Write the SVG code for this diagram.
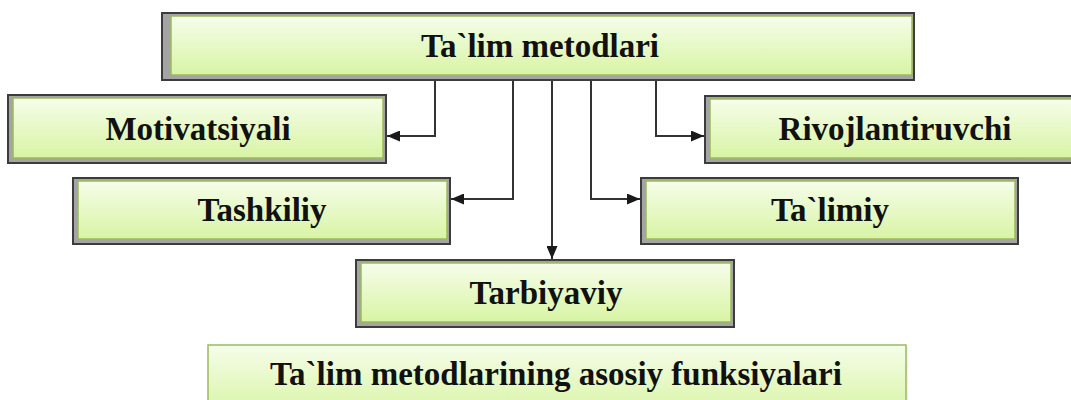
<svg xmlns="http://www.w3.org/2000/svg" width="1071" height="400" viewBox="0 0 1071 400">
<defs>
<linearGradient id="g" x1="0" y1="0" x2="0" y2="1">
<stop offset="0" stop-color="#f6fdea"/>
<stop offset="1" stop-color="#d8f4a4"/>
</linearGradient>
<marker id="arr" viewBox="0 0 13 11" refX="13" refY="5.5" markerWidth="13" markerHeight="11" markerUnits="userSpaceOnUse" orient="auto">
<path d="M0,0 L13,5.5 L0,11 z" fill="#1a1a1a"/>
</marker>
</defs>
<style>
.frame{fill:#a4a4a4;stroke:#3c3c3c;stroke-width:2}
.box{fill:url(#g);stroke:#9bbb59;stroke-width:1.5}
.lbl{font-family:"Liberation Serif","Times New Roman",serif;font-weight:bold;font-size:33px;fill:#111;text-anchor:middle}
.con{fill:none;stroke:#333;stroke-width:2}
</style>
<rect width="1071" height="400" fill="#fff"/>
<g id="connectors">
<path class="con" d="M435,80 V136 H387" marker-end="url(#arr)"/>
<path class="con" d="M513,80 V199 H451" marker-end="url(#arr)"/>
<path class="con" d="M552,80 V259" marker-end="url(#arr)"/>
<path class="con" d="M591,80 V199 H640" marker-end="url(#arr)"/>
<path class="con" d="M656,80 V136 H704" marker-end="url(#arr)"/>
</g>
<g id="n-top">
<rect class="frame" x="162" y="13" width="752" height="67"/>
<rect class="box" x="171" y="16" width="741" height="59"/>
<text class="lbl" x="540" y="57">Ta`lim metodlari</text>
</g>
<g id="n-motivatsiyali">
<rect class="frame" x="8" y="95" width="378" height="68"/>
<rect class="box" x="13" y="98" width="370" height="60"/>
<text class="lbl" x="198" y="140">Motivatsiyali</text>
</g>
<g id="n-rivojlantiruvchi">
<rect class="frame" x="705" y="96" width="380" height="67"/>
<rect class="box" x="710" y="99" width="372" height="59"/>
<text class="lbl" x="895" y="140">Rivojlantiruvchi</text>
</g>
<g id="n-tashkiliy">
<rect class="frame" x="73" y="178" width="377" height="66"/>
<rect class="box" x="78" y="181" width="369" height="58"/>
<text class="lbl" x="262" y="221">Tashkiliy</text>
</g>
<g id="n-talimiy">
<rect class="frame" x="641" y="178" width="377" height="66"/>
<rect class="box" x="646" y="181" width="369" height="58"/>
<text class="lbl" x="830" y="221">Ta`limiy</text>
</g>
<g id="n-tarbiyaviy">
<rect class="frame" x="356" y="260" width="378" height="67"/>
<rect class="box" x="361" y="263" width="370" height="59"/>
<text class="lbl" x="546" y="304">Tarbiyaviy</text>
</g>
<g id="n-title">
<rect x="210" y="347" width="698" height="70" fill="#e6e6e6" opacity="0.6"/>
<rect class="box" x="208" y="345" width="698" height="70"/>
<text class="lbl" x="556" y="385">Ta`lim metodlarining asosiy funksiyalari</text>
</g>
</svg>
